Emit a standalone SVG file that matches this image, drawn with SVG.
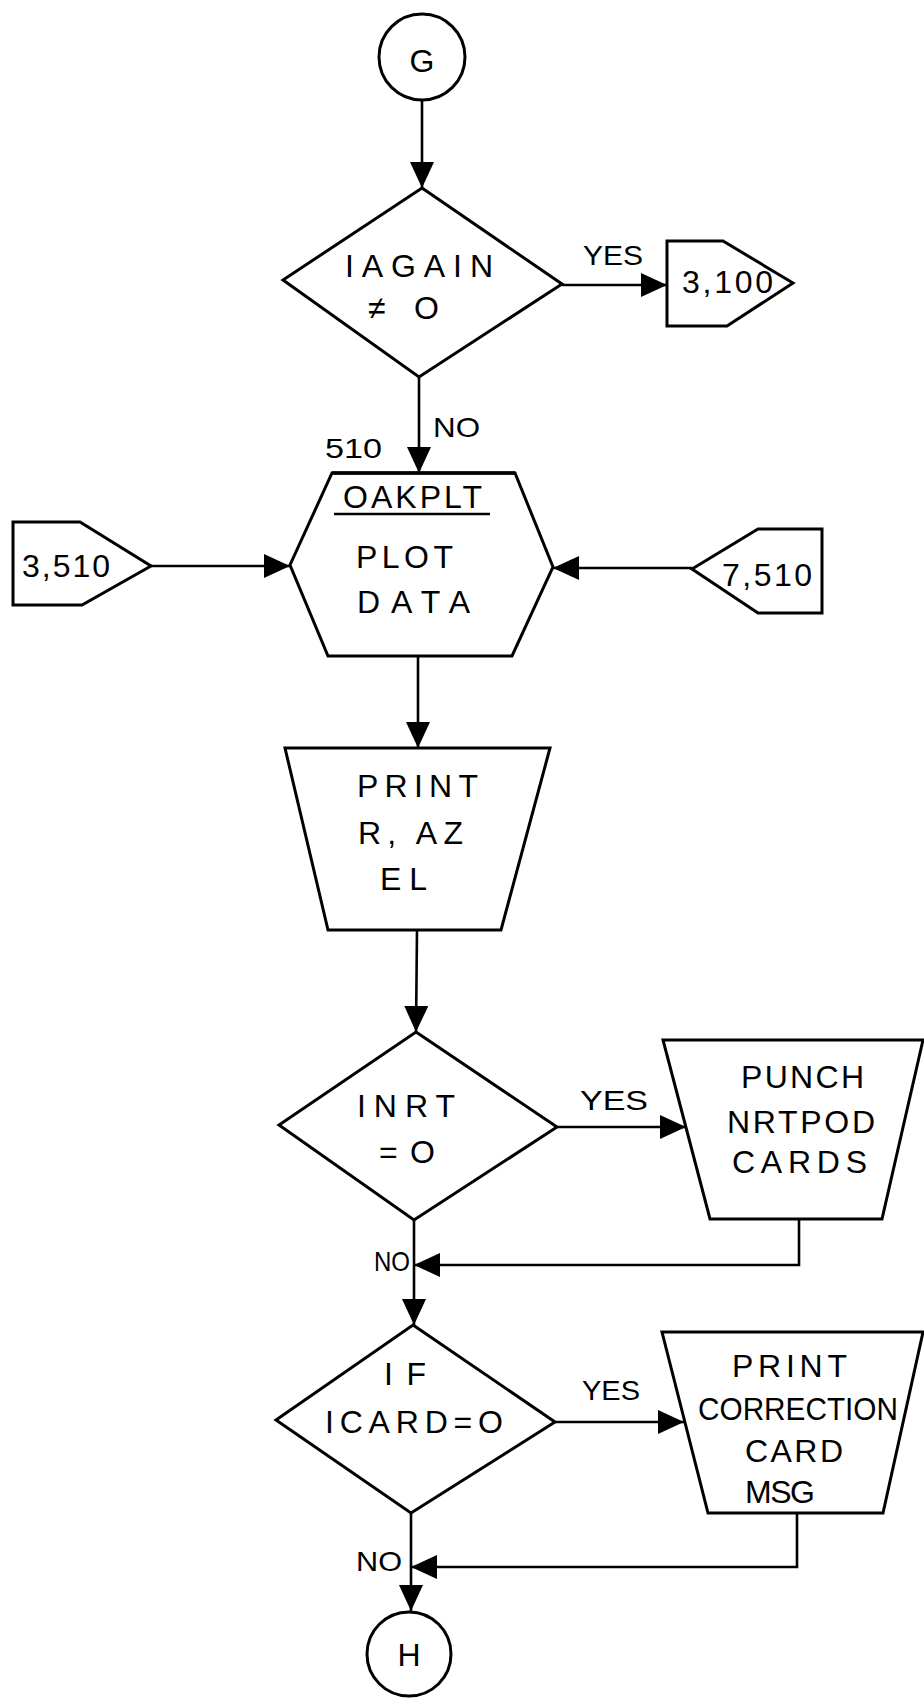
<svg xmlns="http://www.w3.org/2000/svg" width="924" height="1698" viewBox="0 0 924 1698">
<style>
.s{fill:#fff;stroke:#000;stroke-width:3;stroke-linejoin:miter}
.c{fill:none;stroke:#000;stroke-width:2.6}
.t{stroke:#000;stroke-width:3.4}
text{font-family:"Liberation Sans",Arial,sans-serif;font-size:32px;fill:#000}
.l{font-size:28px}
</style>
<defs>
<marker id="ah" markerUnits="userSpaceOnUse" markerWidth="26" markerHeight="24" refX="26" refY="12" orient="auto">
<path d="M0,0 L26,12 L0,24 z" fill="#000"/>
</marker>
</defs>
<rect width="924" height="1698" fill="#fff"/>
<g id="connectors">
<path class="c" d="M422,100 V188" marker-end="url(#ah)"/>
<path class="c" d="M562,285 H667" marker-end="url(#ah)"/>
<path class="c" d="M419,377 V473" marker-end="url(#ah)"/>
<path class="c" d="M151,566 H290" marker-end="url(#ah)"/>
<path class="c" d="M692,568 H553" marker-end="url(#ah)"/>
<path class="c" d="M418,656 V748" marker-end="url(#ah)"/>
<path class="c" d="M417,930 L416,1032" marker-end="url(#ah)"/>
<path class="c" d="M557,1127 H686" marker-end="url(#ah)"/>
<path class="c" d="M414,1220 V1325" marker-end="url(#ah)"/>
<path class="c" d="M799,1219 V1265 H414" marker-end="url(#ah)"/>
<path class="c" d="M555,1422 H684" marker-end="url(#ah)"/>
<path class="c" d="M411,1513 V1611" marker-end="url(#ah)"/>
<path class="c" d="M797,1513 V1567 H411" marker-end="url(#ah)"/>
<text class="l" x="583" y="265" textLength="60" lengthAdjust="spacingAndGlyphs">YES</text>
<text class="l" x="433" y="437" textLength="47" lengthAdjust="spacingAndGlyphs">NO</text>
<text class="l" x="580" y="1110" textLength="68" lengthAdjust="spacingAndGlyphs">YES</text>
<text class="l" x="374" y="1271" textLength="36" lengthAdjust="spacingAndGlyphs">NO</text>
<text class="l" x="582" y="1400" textLength="58" lengthAdjust="spacingAndGlyphs">YES</text>
<text class="l" x="356" y="1571" textLength="46" lengthAdjust="spacingAndGlyphs">NO</text>
</g>
<g id="G">
<circle class="s" cx="422" cy="57" r="43"/>
<text x="422" y="72" text-anchor="middle">G</text>
</g>
<g id="IAGAIN">
<path class="s" d="M422,188 L562,284 L419,377 L283,280 Z"/>
<text x="345" y="277" textLength="148" lengthAdjust="spacing">IAGAIN</text>
<text y="319"><tspan x="368">≠</tspan><tspan x="414">O</tspan></text>
</g>
<g id="c3100">
<path class="s" d="M667,241 L723,241 L793,283 L727,326 L667,326 Z"/>
<text x="682" y="293" textLength="91" lengthAdjust="spacing">3,100</text>
</g>
<g id="OAKPLT">
<text class="l" x="325" y="458" textLength="57" lengthAdjust="spacingAndGlyphs">510</text>
<path class="s" d="M332,473 L515,473 L553,567 L512,656 L328,656 L290,565 Z"/>
<path class="t" d="M332,473 H515"/>
<text x="343" y="508" textLength="139" lengthAdjust="spacing">OAKPLT</text>
<path class="c" d="M334,514 H490"/>
<text x="356" y="568" textLength="97" lengthAdjust="spacing">PLOT</text>
<text x="357" y="613" textLength="113" lengthAdjust="spacing">DATA</text>
</g>
<g id="c3510">
<path class="s" d="M13,522 L80,522 L151,566 L82,605 L13,605 Z"/>
<text x="22" y="577" textLength="88" lengthAdjust="spacing">3,510</text>
</g>
<g id="c7510">
<path class="s" d="M692,569 L758,529 L822,529 L822,613 L758,613 Z"/>
<text x="722" y="586" textLength="90" lengthAdjust="spacing">7,510</text>
</g>
<g id="PRINT1">
<path class="s" d="M285,748 L550,748 L501,930 L328,930 Z"/>
<text x="357" y="797" textLength="121" lengthAdjust="spacing">PRINT</text>
<text x="358" y="844" textLength="105" lengthAdjust="spacing">R, AZ</text>
<text x="380" y="890" textLength="47" lengthAdjust="spacing">EL</text>
</g>
<g id="INRT">
<path class="s" d="M416,1032 L557,1127 L414,1220 L279,1125 Z"/>
<text x="357" y="1117" textLength="98" lengthAdjust="spacing">INRT</text>
<text y="1163"><tspan x="379">=</tspan><tspan x="410">O</tspan></text>
</g>
<g id="PUNCH">
<path class="s" d="M663,1040 L923,1040 L882,1219 L710,1219 Z"/>
<text x="741" y="1088" textLength="123" lengthAdjust="spacing">PUNCH</text>
<text x="727" y="1133" textLength="148" lengthAdjust="spacing">NRTPOD</text>
<text x="732" y="1173" textLength="135" lengthAdjust="spacing">CARDS</text>
</g>
<g id="ICARD">
<path class="s" d="M413,1325 L555,1422 L411,1513 L276,1420 Z"/>
<text x="384" y="1385" textLength="42" lengthAdjust="spacing">IF</text>
<text x="325" y="1433" textLength="178" lengthAdjust="spacing">ICARD=O</text>
</g>
<g id="PRINT2">
<path class="s" d="M662,1332 L923,1332 L883,1513 L708,1513 Z"/>
<text x="732" y="1377" textLength="115" lengthAdjust="spacing">PRINT</text>
<text x="698" y="1420" textLength="200" lengthAdjust="spacingAndGlyphs">CORRECTION</text>
<text x="745" y="1462" textLength="98" lengthAdjust="spacing">CARD</text>
<text x="745" y="1503" textLength="70" lengthAdjust="spacing">MSG</text>
</g>
<g id="H">
<circle class="s" cx="409" cy="1654" r="42"/>
<text x="409" y="1666" text-anchor="middle">H</text>
</g>
</svg>
